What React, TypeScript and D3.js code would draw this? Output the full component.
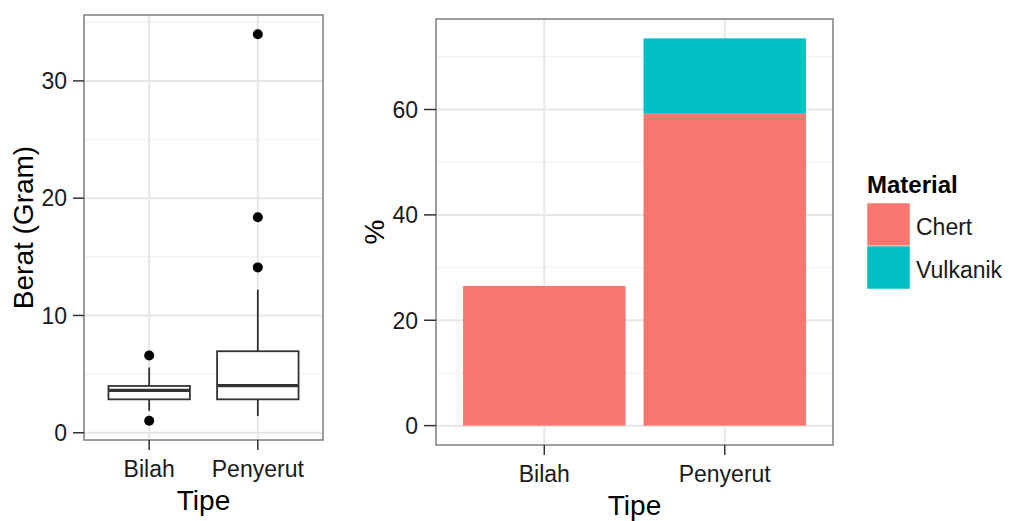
import React from "react";
import * as d3 from "d3";

// data
const categories = ["Bilah", "Penyerut"];
const boxLowerWhisker = [1.88, 1.43];
const boxQ1 = [2.85, 2.85];
const boxMedian = [3.62, 4.02];
const boxQ3 = [3.99, 6.95];
const boxUpperWhisker = [5.56, 12.2];
const outliersBilah = [6.58, 1.03];
const outliersPenyerut = [33.97, 18.38, 14.1];
const chertPct = [26.5, 59.2];
const vulkanikPct = [0, 14.3];
const weightTicks = [0, 10, 20, 30];
const weightMinor = [5, 15, 25, 35];
const pctTicks = [0, 20, 40, 60];
const pctMinor = [10, 30, 50, 70];
const materials = ["Chert", "Vulkanik"];
const materialColors = ["#F8766D", "#00BFC4"];

const FONT = "'Liberation Sans', Arial, sans-serif";
const TICK_COLOR = "#333";
const LABEL_COLOR = "#1a1a1a";

function expand(lo: number, hi: number): [number, number] {
  const pad = (hi - lo) * 0.05;
  return [lo - pad, hi + pad];
}

function BoxPanel() {
  const left = 84, right = 323, top = 15, bottom = 440;
  const allVals = [...boxLowerWhisker, ...boxUpperWhisker, ...outliersBilah, ...outliersPenyerut];
  const y = d3.scaleLinear().domain(expand(d3.min(allVals)!, d3.max(allVals)!)).range([bottom, top]);
  const x = d3.scaleLinear().domain([0.4, 2.6]).range([left, right]);
  const halfW = x(1.375) - x(1);
  const outliers = [outliersBilah, outliersPenyerut];
  return (
    <g>
      {weightMinor.map((v) => (
        <line key={"mn" + v} x1={left} x2={right} y1={y(v)} y2={y(v)} stroke="#f3f3f3" strokeWidth={1.5} />
      ))}
      {weightTicks.map((v) => (
        <line key={"mj" + v} x1={left} x2={right} y1={y(v)} y2={y(v)} stroke="#e6e6e6" strokeWidth={2} />
      ))}
      {categories.map((c, i) => (
        <line key={"vx" + c} x1={x(i + 1)} x2={x(i + 1)} y1={top} y2={bottom} stroke="#e6e6e6" strokeWidth={2} />
      ))}
      {categories.map((c, i) => {
        const cx = x(i + 1);
        return (
          <g key={"box" + c} stroke="#333" fill="#fff">
            <line x1={cx} x2={cx} y1={y(boxQ3[i])} y2={y(boxUpperWhisker[i])} strokeWidth={1.8} />
            <line x1={cx} x2={cx} y1={y(boxQ1[i])} y2={y(boxLowerWhisker[i])} strokeWidth={1.8} />
            <rect x={cx - halfW} y={y(boxQ3[i])} width={halfW * 2} height={y(boxQ1[i]) - y(boxQ3[i])} strokeWidth={1.8} />
            <line x1={cx - halfW} x2={cx + halfW} y1={y(boxMedian[i])} y2={y(boxMedian[i])} strokeWidth={3.2} />
            {outliers[i].map((v, j) => (
              <circle key={j} cx={cx} cy={y(v)} r={5} fill="#000" stroke="none" />
            ))}
          </g>
        );
      })}
      <rect x={left} y={top} width={right - left} height={bottom - top} fill="none" stroke="#7f7f7f" strokeWidth={1.5} />
      {weightTicks.map((v) => (
        <g key={"yt" + v}>
          <line x1={left - 11} x2={left} y1={y(v)} y2={y(v)} stroke={TICK_COLOR} strokeWidth={1.5} />
          <text x={left - 17} y={y(v)} dy="0.36em" textAnchor="end" fontSize={23} fill={LABEL_COLOR}>{v}</text>
        </g>
      ))}
      {categories.map((c, i) => (
        <g key={"xt" + c}>
          <line x1={x(i + 1)} x2={x(i + 1)} y1={bottom} y2={bottom + 10} stroke={TICK_COLOR} strokeWidth={1.5} />
          <text x={x(i + 1)} y={bottom + 37} textAnchor="middle" fontSize={23} fill={LABEL_COLOR}>{c}</text>
        </g>
      ))}
      <text x={(left + right) / 2} y={bottom + 70} textAnchor="middle" fontSize={28} fill="#000">Tipe</text>
      <text transform={`translate(33,${(top + bottom) / 2}) rotate(-90)`} textAnchor="middle" fontSize={28} fill="#000">Berat (Gram)</text>
    </g>
  );
}

function BarPanel() {
  const left = 436, right = 833, top = 19, bottom = 445;
  const totals = categories.map((_, i) => chertPct[i] + vulkanikPct[i]);
  const y = d3.scaleLinear().domain(expand(0, d3.max(totals)!)).range([bottom, top]);
  const x = d3.scaleLinear().domain([0.4, 2.6]).range([left, right]);
  const halfW = x(1.45) - x(1);
  const stack = d3.stack<number>().keys(["0", "1"]).value((i, k) => (k === "0" ? chertPct[i] : vulkanikPct[i]));
  const series = stack(categories.map((_, i) => i));
  return (
    <g>
      {pctMinor.map((v) => (
        <line key={"mn" + v} x1={left} x2={right} y1={y(v)} y2={y(v)} stroke="#f3f3f3" strokeWidth={1.5} />
      ))}
      {pctTicks.map((v) => (
        <line key={"mj" + v} x1={left} x2={right} y1={y(v)} y2={y(v)} stroke="#e6e6e6" strokeWidth={2} />
      ))}
      {categories.map((c, i) => (
        <line key={"vx" + c} x1={x(i + 1)} x2={x(i + 1)} y1={top} y2={bottom} stroke="#e6e6e6" strokeWidth={2} />
      ))}
      {series.map((s, k) =>
        s.map((d, i) =>
          d[1] - d[0] > 0 ? (
            <rect key={k + "-" + i} x={x(i + 1) - halfW} width={halfW * 2} y={y(d[1])} height={y(d[0]) - y(d[1])} fill={materialColors[k]} />
          ) : null
        )
      )}
      <rect x={left} y={top} width={right - left} height={bottom - top} fill="none" stroke="#7f7f7f" strokeWidth={1.5} />
      {pctTicks.map((v) => (
        <g key={"yt" + v}>
          <line x1={left - 12} x2={left} y1={y(v)} y2={y(v)} stroke={TICK_COLOR} strokeWidth={1.5} />
          <text x={left - 18} y={y(v)} dy="0.36em" textAnchor="end" fontSize={23} fill={LABEL_COLOR}>{v}</text>
        </g>
      ))}
      {categories.map((c, i) => (
        <g key={"xt" + c}>
          <line x1={x(i + 1)} x2={x(i + 1)} y1={bottom} y2={bottom + 10} stroke={TICK_COLOR} strokeWidth={1.5} />
          <text x={x(i + 1)} y={bottom + 37} textAnchor="middle" fontSize={23} fill={LABEL_COLOR}>{c}</text>
        </g>
      ))}
      <text x={(left + right) / 2} y={bottom + 70} textAnchor="middle" fontSize={28} fill="#000">Tipe</text>
      <text transform={`translate(384,${(top + bottom) / 2}) rotate(-90)`} textAnchor="middle" fontSize={28} fill="#000">%</text>
    </g>
  );
}

function Legend() {
  const lx = 867, ty = 193, keyTop = 203, key = 43;
  return (
    <g>
      <text x={lx} y={ty} fontSize={24} fontWeight="bold" fill="#000">Material</text>
      {materials.map((m, i) => (
        <g key={m}>
          <rect x={lx} y={keyTop + i * key} width={key} height={key} fill={materialColors[i]} stroke="#fff" strokeWidth={0.5} />
          <text x={lx + key + 6} y={keyTop + i * key + key / 2 + 2} dy="0.36em" fontSize={23} fill={LABEL_COLOR}>{m}</text>
        </g>
      ))}
    </g>
  );
}

export default function App() {
  return (
    <svg
      width={1009}
      height={521}
      style={{ position: "absolute", left: 0, top: 0, background: "#fff" }}
      fontFamily={FONT}
    >
      <rect width={1009} height={521} fill="#fff" />
      <BoxPanel />
      <BarPanel />
      <Legend />
    </svg>
  );
}
